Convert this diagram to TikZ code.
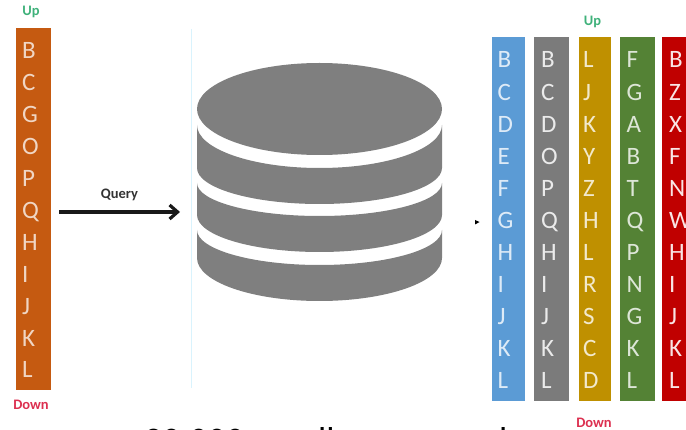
\documentclass[tikz,border=0pt]{standalone}
\usepackage{fontspec}
\setmainfont{Carlito}
\usetikzlibrary{arrows.meta}
\definecolor{cOrange}{HTML}{C55A11}
\definecolor{cBlue}{HTML}{5B9BD5}
\definecolor{cGray}{HTML}{7B7B7B}
\definecolor{cGold}{HTML}{BF9000}
\definecolor{cGreen}{HTML}{548235}
\definecolor{cRed}{HTML}{C00000}
\definecolor{cDb}{HTML}{7F7F7F}
\definecolor{cUp}{HTML}{3FB17A}
\definecolor{cDown}{HTML}{DC3050}
\tikzset{
  colbox/.style={draw=none,fill=#1},
  letter/.style={anchor=base west,inner sep=0pt,font=\fontsize{25}{25}\selectfont,text=#1},
  updown/.style={inner sep=0pt,font=\fontsize{14.5}{14.5}\selectfont\bfseries,text=#1},
  dbpart/.style={fill=cDb,draw=none},
  cuttext/.style={anchor=base west,inner sep=0pt,font=\fontsize{36}{36}\selectfont,text=black},
}
\newcommand{\lettercolumn}[5]{% x, baseline-start, step, colour, letters
  \foreach \L [count=\i from 0] in {#5} {
    \node[letter=#4] at (#1,{#2+\i*#3}) {\L};
  }
}
\begin{document}
\begin{tikzpicture}[x=1pt,y=-1pt]
\useasboundingbox (0,0) rectangle (686,430);
\clip (0,0) rectangle (686,430);
% left column
\fill[colbox=cOrange] (15.5,28) rectangle (50.5,390);
\lettercolumn{22}{59}{31.9}{cOrange!25!white}{B,C,G,O,P,Q,H,I,J,K,L}
\node[updown=cUp] (up1) at (31,12) {Up};
\node[updown=cDown] (down1) at (31,405) {Down};
% separator
\draw[cyan!15,line width=.6pt] (191.5,29) -- (191.5,388);
% query arrow
\coordinate (qs) at (59,212);
\coordinate (qe) at (180,212);
\draw[line width=3.2pt,black!90,-{Straight Barb[length=8pt,width=14pt,line width=3.2pt]}] (qs) -- (qe);
\node[updown=black!80] (q) at (119.5,195) {Query};
% database
\fill[dbpart] (197,109) arc[x radius=122.5,y radius=46,start angle=180,end angle=540] -- cycle;
\fill[dbpart] (197,125) arc[x radius=122.5,y radius=43,start angle=180,end angle=0] -- (442,168) arc[x radius=122.5,y radius=36,start angle=0,end angle=180] -- cycle;
\fill[dbpart] (197,183) arc[x radius=122.5,y radius=33,start angle=180,end angle=0] -- (442,215) arc[x radius=122.5,y radius=37,start angle=0,end angle=180] -- cycle;
\fill[dbpart] (197,230) arc[x radius=122.5,y radius=35,start angle=180,end angle=0] -- (442,258) arc[x radius=122.5,y radius=43,start angle=0,end angle=180] -- cycle;
% small marker
\fill[black] (475,220) -- (479.5,222) -- (475,224.5) -- cycle;
% right columns
\fill[colbox=cBlue] (492,37) rectangle (525,401);
\fill[colbox=cGray] (534,37) rectangle (569,401);
\fill[colbox=cGold] (578.5,37) rectangle (611,401);
\fill[colbox=cGreen] (620,37) rectangle (655,401);
\fill[colbox=cRed] (662,37) rectangle (686,401);
\lettercolumn{497.5}{68}{32.1}{cBlue!20!white}{B,C,D,E,F,G,H,I,J,K,L}
\lettercolumn{541}{68}{32.1}{cGray!15!white}{B,C,D,O,P,Q,H,I,J,K,L}
\lettercolumn{583}{68}{32.1}{cGold!20!white}{L,J,K,Y,Z,H,L,R,S,C,D}
\lettercolumn{626.5}{68}{32.1}{cGreen!20!white}{F,G,A,B,T,Q,P,N,G,K,L}
\lettercolumn{669}{68}{32.1}{cRed!10!white}{B,Z,X,F,N,W,H,I,J,K,L}
\node[updown=cUp] (up2) at (592.5,22) {Up};
\node[updown=cDown] (down2) at (594,423) {Down};
% text cut off at the lower edge
\node[cuttext] (cut1) at (144,453) {20,000};
\node[cuttext] (cut2) at (318,453) {ll};
\node[cuttext] (cut3) at (499,453) {l};
\end{tikzpicture}
\end{document}
